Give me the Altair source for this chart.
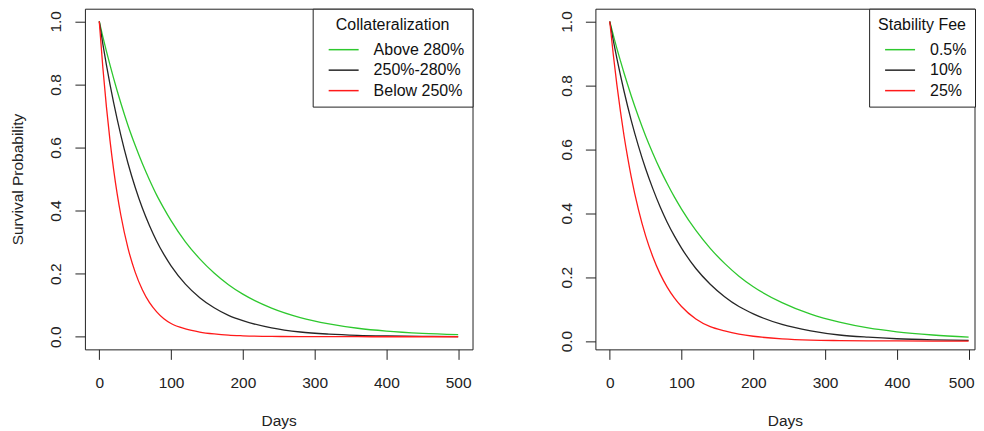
import altair as alt
import pandas as pd

days = [0, 5, 10, 15, 20, 25, 30, 40, 50, 60, 70, 80, 90, 100, 120, 140, 160,
        180, 200, 240, 280, 320, 360, 400, 450, 500]

# Left panel: Collateralization
coll_above = [1.0, 0.951, 0.905, 0.861, 0.819, 0.779, 0.741, 0.670, 0.607, 0.549,
              0.497, 0.449, 0.407, 0.368, 0.301, 0.247, 0.202, 0.165, 0.135, 0.091,
              0.061, 0.041, 0.027, 0.018, 0.011, 0.007]
coll_mid = [1.0, 0.928, 0.861, 0.799, 0.742, 0.689, 0.639, 0.550, 0.474, 0.408,
            0.352, 0.303, 0.261, 0.225, 0.167, 0.124, 0.092, 0.068, 0.051, 0.028,
            0.015, 0.0084, 0.0046, 0.0026, 0.0012, 0.0006]
coll_below = [1.0, 0.853, 0.728, 0.621, 0.530, 0.452, 0.386, 0.281, 0.205, 0.149,
              0.108, 0.079, 0.057, 0.042, 0.025, 0.015, 0.009, 0.005, 0.003, 0.001,
              0.0005, 0.0002, 0.0001, 0.0, 0.0, 0.0]

# Right panel: Stability Fee
fee_05 = [1.0, 0.957, 0.915, 0.876, 0.838, 0.802, 0.767, 0.702, 0.642, 0.588,
          0.538, 0.493, 0.451, 0.413, 0.346, 0.290, 0.243, 0.203, 0.170, 0.120,
          0.084, 0.059, 0.041, 0.029, 0.019, 0.012]
fee_10 = [1.0, 0.940, 0.884, 0.831, 0.781, 0.734, 0.690, 0.610, 0.539, 0.477,
          0.421, 0.372, 0.329, 0.291, 0.227, 0.178, 0.139, 0.108, 0.085, 0.052,
          0.032, 0.019, 0.012, 0.0072, 0.0039, 0.0021]
fee_25 = [1.0, 0.895, 0.801, 0.717, 0.641, 0.574, 0.513, 0.411, 0.329, 0.264,
          0.211, 0.169, 0.135, 0.108, 0.069, 0.045, 0.032, 0.022, 0.015, 0.007,
          0.003, 0.0015, 0.0007, 0.0003, 0.0001, 0.0]

coll_labels = ["Above 280%", "250%-280%", "Below 250%"]
fee_labels = ["0.5%", "10%", "25%"]
line_colors = ["#2ec82e", "#262626", "#ff1a1a"]

x_ticks = [0, 100, 200, 300, 400, 500]
y_ticks = [0.0, 0.2, 0.4, 0.6, 0.8, 1.0]

FONT = "Liberation Sans"


def frame(labels, series):
    rows = []
    for lab, vals in zip(labels, series):
        for d, v in zip(days, vals):
            rows.append({"Days": d, "Prob": v, "Group": lab})
    return pd.DataFrame(rows)


def panel(df, labels, legend_title, x_domain, y_domain, width, show_y_title, flush):
    x_axis_opts = dict(values=x_ticks, format="d", title="Days",
                       labelPadding=16, titlePadding=23)
    if flush:
        x_axis_opts.update(labelFlush=10, labelFlushOffset=5.5)
    return alt.Chart(df).mark_line(strokeWidth=1.3, interpolate="monotone", clip=True).encode(
        x=alt.X("Days:Q", scale=alt.Scale(domain=x_domain, nice=False, zero=False),
                axis=alt.Axis(**x_axis_opts)),
        y=alt.Y("Prob:Q", scale=alt.Scale(domain=y_domain, nice=False, zero=False),
                axis=alt.Axis(values=y_ticks, format=".1f",
                              title="Survival Probability" if show_y_title else None,
                              labelAngle=270, labelAlign="center", labelBaseline="middle",
                              labelPadding=19, titlePadding=23)),
        color=alt.Color("Group:N", sort=labels,
                        scale=alt.Scale(domain=labels, range=line_colors),
                        legend=alt.Legend(title=legend_title, orient="top-right", offset=0)),
    ).properties(width=width, height=341)


left = panel(frame(coll_labels, [coll_above, coll_mid, coll_below]), coll_labels,
             "Collateralization", [-20, 520], [-0.04, 1.04], 388, True, False)
right = panel(frame(fee_labels, [fee_05, fee_10, fee_25]), fee_labels,
              "Stability Fee", [-20, 508.2], [-0.026, 1.04], 379.5, False, True)

chart = alt.hconcat(left, right, spacing=123, bounds="flush").resolve_scale(
    color="independent", x="independent", y="independent"
).properties(
    padding={"left": 2, "top": -0.5, "right": 0, "bottom": 0},
    background="white",
).configure_view(
    stroke="#222222", strokeWidth=1
).configure_axis(
    domain=False, grid=False, tickSize=10, tickColor="#222222", tickWidth=1,
    labelColor="#222222", labelFont=FONT, labelFontSize=15.5,
    titleColor="#222222", titleFont=FONT, titleFontSize=15.5, titleFontWeight="normal",
).configure_legend(
    strokeColor="#222222", fillColor="white", padding=8, cornerRadius=0,
    titleFont=FONT, titleFontSize=16, titleFontWeight="normal", titleColor="#111111",
    titleAnchor="middle", titlePadding=9,
    labelFont=FONT, labelFontSize=16, labelColor="#111111",
    symbolType="M-3,0H3", symbolSize=100, symbolStrokeWidth=1.5,
    symbolOffset=15, labelOffset=22, rowPadding=4.5,
)

chart.save("out.html", embed_options={"renderer": "svg", "actions": False})
